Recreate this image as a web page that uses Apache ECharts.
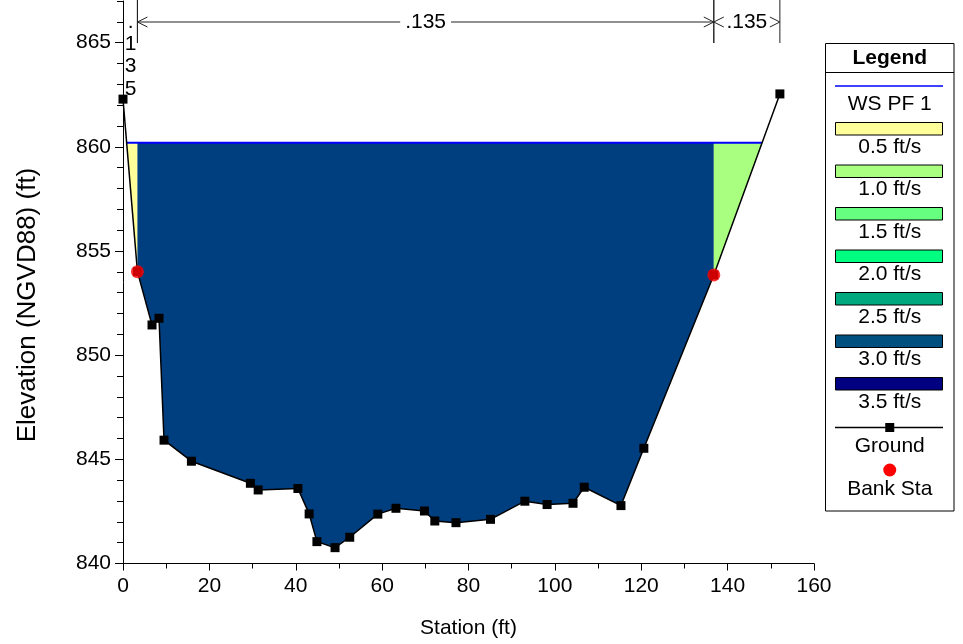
<!DOCTYPE html>
<html>
<head>
<meta charset="utf-8">
<script src="https://cdn.jsdelivr.net/npm/echarts@6/dist/echarts.min.js"></script>
<style>
html,body{margin:0;padding:0;background:#fff;}
#chart{width:963px;height:644px;}
</style>
</head>
<body>
<div id="chart"></div>
<script>
// ---------- DATA ----------
const groundStation = [0, 3.34, 6.72, 8.34, 9.5, 15.84, 29.5, 31.3, 40.5, 43.1, 44.9, 49.1, 52.5, 59.0, 63.2, 69.8, 72.2, 77.1, 85.1, 93.05, 98.2, 104.2, 106.8, 115.3, 120.6, 136.8, 152.1];
const groundElev    = [862.29, 854.01, 851.45, 851.77, 845.92, 844.91, 843.85, 843.53, 843.6, 842.38, 841.05, 840.76, 841.26, 842.37, 842.65, 842.52, 842.04, 841.96, 842.12, 842.99, 842.83, 842.89, 843.66, 842.78, 845.53, 853.85, 862.54];
const bankStation = [3.34, 136.8];
const bankElev    = [854.01, 853.85];
const wsElev = 860.2;
const nBreaks = [0, 3.34, 136.8, 152.1];
const nValues = ['.135', '.135', '.135'];
const xTickRange = [0, 160, 20];
const yTickRange = [840, 867, 5];
const xTitle = 'Station (ft)';
const yTitle = 'Elevation (NGVD88) (ft)';
const legendTitle = 'Legend';
const wsLabel = 'WS PF 1';
const velocityLabels = ['0.5 ft/s', '1.0 ft/s', '1.5 ft/s', '2.0 ft/s', '2.5 ft/s', '3.0 ft/s', '3.5 ft/s'];
const velocityColors = ['#FFFF99', '#A8FF80', '#66FF80', '#00FF80', '#00A880', '#00507F', '#000080'];
const groundLabel = 'Ground';
const bankLabel = 'Bank Sta';
const subsectionColors = ['#FFFF99', '#003F7F', '#A8FF80'];

// ---------- HELPERS ----------
const FONT = '"Liberation Sans", Arial, sans-serif';
const FS = 21;

function groundAt(x) {
  for (let i = 0; i < groundStation.length - 1; i++) {
    const x0 = groundStation[i], x1 = groundStation[i + 1];
    if (x >= x0 && x <= x1) {
      if (x1 === x0) return groundElev[i];
      return groundElev[i] + (groundElev[i + 1] - groundElev[i]) * (x - x0) / (x1 - x0);
    }
  }
  return x < groundStation[0] ? groundElev[0] : groundElev[groundElev.length - 1];
}
function crossings() {
  const out = [];
  for (let i = 0; i < groundStation.length - 1; i++) {
    const y0 = groundElev[i] - wsElev, y1 = groundElev[i + 1] - wsElev;
    if (y0 * y1 < 0) {
      out.push(groundStation[i] + (groundStation[i + 1] - groundStation[i]) * y0 / (y0 - y1));
    }
  }
  return out;
}
const wsCross = crossings();
const wsLeft = wsCross[0], wsRight = wsCross[wsCross.length - 1];

function subsectionPolygon(a, b) {
  let xs = [a, b];
  groundStation.forEach(s => { if (s > a && s < b) xs.push(s); });
  wsCross.forEach(s => { if (s > a && s < b) xs.push(s); });
  xs.sort((p, q) => p - q);
  const pts = xs.map(x => [x, Math.min(groundAt(x), wsElev)]);
  pts.push([b, wsElev]);
  pts.push([a, wsElev]);
  return pts;
}

const subsections = [
  [groundStation[0], bankStation[0], wsElev],
  [bankStation[0], bankStation[1], wsElev],
  [bankStation[1], groundStation[groundStation.length - 1], wsElev]
];
const nSegments = [];
for (let i = 0; i < nValues.length; i++) nSegments.push([nBreaks[i], nBreaks[i + 1], wsElev]);

const measureCtx = document.createElement('canvas').getContext('2d');
measureCtx.font = FS + 'px ' + FONT;
function textWidth(t) { return measureCtx.measureText(t).width; }

// ---------- LEGEND (graphic) ----------
const LX = 825.5, LR = 954, LT = 43.5, LB = 511;
const LC = (LX + LR) / 2;
const legendChildren = [
  { type: 'rect', shape: { x: LX, y: LT, width: LR - LX, height: LB - LT }, style: { fill: '#fff', stroke: '#000', lineWidth: 1 } },
  { type: 'line', shape: { x1: LX, y1: 72.5, x2: LR, y2: 72.5 }, style: { stroke: '#000', lineWidth: 1 } },
  { type: 'text', x: LC, y: 58, style: { text: legendTitle, font: 'bold ' + FS + 'px ' + FONT, fill: '#000', align: 'center', verticalAlign: 'middle' } },
  { type: 'line', shape: { x1: 835, y1: 86, x2: 943, y2: 86 }, style: { stroke: '#0000FF', lineWidth: 1.5 } },
  { type: 'text', x: LC, y: 104.5, style: { text: wsLabel, font: FS + 'px ' + FONT, fill: '#000', align: 'center', verticalAlign: 'middle' } }
];
velocityLabels.forEach((lab, k) => {
  const y = 122.5 + 42.5 * k;
  legendChildren.push({ type: 'rect', shape: { x: 835.5, y: y, width: 107, height: 12.5 }, style: { fill: velocityColors[k], stroke: '#000', lineWidth: 1 } });
  legendChildren.push({ type: 'text', x: LC, y: y + 24.5, style: { text: lab, font: FS + 'px ' + FONT, fill: '#000', align: 'center', verticalAlign: 'middle' } });
});
legendChildren.push({ type: 'line', shape: { x1: 835, y1: 427.5, x2: 943, y2: 427.5 }, style: { stroke: '#000', lineWidth: 1.5 } });
legendChildren.push({ type: 'rect', shape: { x: LC - 4.5, y: 423, width: 9, height: 9 }, style: { fill: '#000' } });
legendChildren.push({ type: 'text', x: LC, y: 446.5, style: { text: groundLabel, font: FS + 'px ' + FONT, fill: '#000', align: 'center', verticalAlign: 'middle' } });
legendChildren.push({ type: 'circle', shape: { cx: LC, cy: 470, r: 6.5 }, style: { fill: '#FF0000' } });
legendChildren.push({ type: 'text', x: LC, y: 489, style: { text: bankLabel, font: FS + 'px ' + FONT, fill: '#000', align: 'center', verticalAlign: 'middle' } });

// y-axis title (drawn as rotated text)
const yTitleGraphic = {
  type: 'text', x: 28, y: 305, rotation: Math.PI / 2,
  style: { text: yTitle, font: '26px ' + FONT, fill: '#000', align: 'center', verticalAlign: 'middle' }
};

// ---------- CHART ----------
const chart = echarts.init(document.getElementById('chart'), null, { renderer: 'canvas' });
const axisText = { color: '#000', fontSize: FS, fontFamily: FONT };

const option = {
  animation: false,
  backgroundColor: '#fff',
  grid: { left: 123, right: 149, top: 1, bottom: 80.5, containLabel: false },
  xAxis: {
    type: 'value', min: xTickRange[0], max: xTickRange[1], interval: xTickRange[2],
    name: xTitle, nameLocation: 'middle', nameGap: 54, nameTextStyle: axisText,
    axisLine: { show: true, onZero: false, lineStyle: { color: '#000', width: 1 } },
    axisTick: { show: true, inside: false, length: 7, lineStyle: { color: '#000' } },
    minorTick: { show: true, splitNumber: 2, length: 5, lineStyle: { color: '#000' } },
    axisLabel: Object.assign({ margin: 12 }, axisText),
    splitLine: { show: false }
  },
  yAxis: [
    {
      type: 'value', min: yTickRange[0], max: yTickRange[1], interval: yTickRange[2],
      axisLine: { show: true, onZero: false, lineStyle: { color: '#000', width: 1 } },
      axisTick: { show: true, inside: false, length: 8, lineStyle: { color: '#000' } },
      axisLabel: Object.assign({ margin: 12, showMaxLabel: false, formatter: v => (v % 5 === 0 ? String(v) : '') }, axisText),
      splitLine: { show: false }
    },
    {
      type: 'value', min: yTickRange[0], max: yTickRange[1], interval: 1, position: 'left',
      axisLine: { show: false },
      axisTick: { show: true, inside: false, length: 6, lineStyle: { color: '#000' } },
      axisLabel: { show: false },
      splitLine: { show: false }
    }
  ],
  series: [
    {
      type: 'custom', name: 'flow', xAxisIndex: 0, yAxisIndex: 0,
      data: subsections, encode: { x: [0, 1], y: 2 }, z: 1,
      renderItem: function (params, api) {
        const a = api.value(0), b = api.value(1);
        const pts = subsectionPolygon(a, b).map(p => api.coord(p));
        return { type: 'polygon', shape: { points: pts }, style: { fill: subsectionColors[params.dataIndex], stroke: null } };
      }
    },
    {
      type: 'line', name: wsLabel, z: 3,
      data: [[wsLeft, wsElev], [wsRight, wsElev]],
      symbol: 'none', lineStyle: { color: '#0000FF', width: 2 }
    },
    {
      type: 'line', name: groundLabel, z: 4,
      data: groundStation.map((s, i) => [s, groundElev[i]]),
      symbol: 'rect', symbolSize: 9,
      itemStyle: { color: '#000' },
      lineStyle: { color: '#000', width: 1.5 }
    },
    {
      type: 'scatter', name: bankLabel, z: 5,
      data: bankStation.map((s, i) => [s, bankElev[i]]),
      symbol: 'circle', symbolSize: 13,
      itemStyle: { color: '#FF0000' }
    },
    {
      type: 'custom', name: 'nvalues', z: 6, clip: false,
      data: nSegments, encode: { x: [0, 1], y: 2 },
      renderItem: function (params, api) {
        const a = api.value(0), b = api.value(1);
        const p0 = api.coord([a, yTickRange[1]]);
        const p1 = api.coord([b, yTickRange[1]]);
        const x0 = p0[0], x1 = p1[0], top = p0[1] - 1;
        const ly = top + 22, tb = top + 43;
        const label = nValues[params.dataIndex];
        const tw = textWidth(label);
        const lineStyle = { stroke: '#222', lineWidth: 1, fill: null };
        const children = [];
        if (a > xTickRange[0]) children.push({ type: 'line', shape: { x1: x0, y1: top, x2: x0, y2: tb }, style: lineStyle });
        children.push({ type: 'line', shape: { x1: x1, y1: top, x2: x1, y2: tb }, style: lineStyle });
        const w = x1 - x0;
        if (w < tw) {
          children.push({ type: 'text', x: (x0 + x1) / 2 + 0.5, y: ly - 11.15,
            style: { text: label.split('').join('\n'), font: FS + 'px ' + FONT, lineHeight: 22.3, fill: '#000', align: 'center', verticalAlign: 'top' } });
        } else {
          const cx = (x0 + x1) / 2;
          children.push({ type: 'text', x: cx, y: ly, style: { text: label, font: FS + 'px ' + FONT, fill: '#000', align: 'center', verticalAlign: 'middle' } });
          const l1 = cx - tw / 2 - 5, r1 = cx + tw / 2 + 5;
          if (l1 > x0 + 10) children.push({ type: 'line', shape: { x1: x0, y1: ly, x2: l1, y2: ly }, style: lineStyle });
          if (r1 < x1 - 10) children.push({ type: 'line', shape: { x1: r1, y1: ly, x2: x1, y2: ly }, style: lineStyle });
          children.push({ type: 'polyline', shape: { points: [[x0 + 10, ly - 5], [x0, ly], [x0 + 10, ly + 5]] }, style: lineStyle });
          children.push({ type: 'polyline', shape: { points: [[x1 - 10, ly - 5], [x1, ly], [x1 - 10, ly + 5]] }, style: lineStyle });
        }
        return { type: 'group', children: children };
      }
    }
  ],
  graphic: [
    { type: 'group', left: 0, top: 0, bounding: 'raw', children: legendChildren },
    yTitleGraphic
  ]
};
chart.setOption(option);
</script>
</body>
</html>
